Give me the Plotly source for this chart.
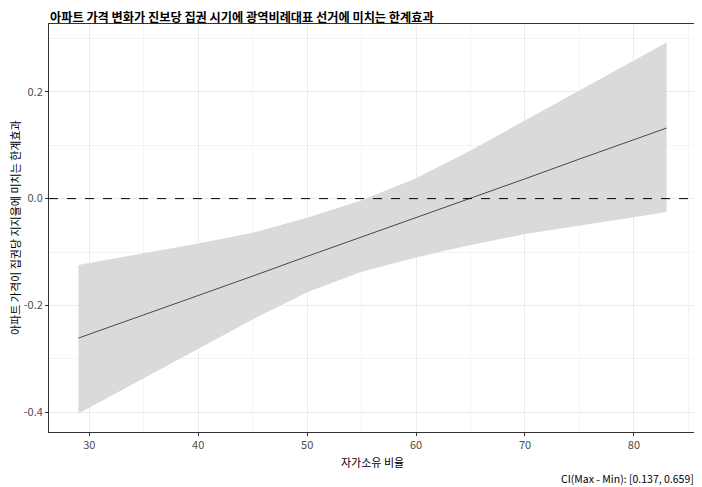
import plotly.graph_objects as go

# Data
ownership = [29, 35, 40, 45, 50, 55, 60, 65, 70, 75, 80, 83]
effect = [-0.261, -0.218, -0.181, -0.145, -0.108, -0.072, -0.036, 0.001, 0.037, 0.074, 0.110, 0.132]
upper = [-0.124, -0.102, -0.084, -0.064, -0.036, -0.003, 0.038, 0.090, 0.146, 0.202, 0.258, 0.292]
lower = [-0.402, -0.336, -0.281, -0.226, -0.175, -0.137, -0.110, -0.087, -0.066, -0.051, -0.035, -0.025]

x_ticks = [30, 40, 50, 60, 70, 80]
y_ticks = [-0.4, -0.2, 0.0, 0.2]
y_tick_labels = ["-0.4", "-0.2", "0.0", "0.2"]

title_text = "아파트 가격 변화가 진보당 집권 시기에 광역비례대표 선거에 미치는 한계효과"
x_title = "자가소유 비율"
y_title = "아파트 가격이 집권당 지지율에 미치는 한계효과"
caption = "CI(Max - Min): [0.137, 0.659]"

FONT = "Noto Sans CJK KR"
# the page body adds an 8px margin, so the figure is sized to fit inside it
W, H = 694, 479
ML, MR, MT, MB = 41, 6, 16, 55

fig = go.Figure()
fig.add_trace(go.Scatter(x=ownership, y=upper, mode="lines", line=dict(width=0),
                         hoverinfo="skip", showlegend=False))
fig.add_trace(go.Scatter(x=ownership, y=lower, mode="lines", line=dict(width=0),
                         fill="tonexty", fillcolor="rgba(218,218,218,1)",
                         hoverinfo="skip", showlegend=False))
fig.add_trace(go.Scatter(x=ownership, y=effect, mode="lines",
                         line=dict(color="#222222", width=0.8), showlegend=False))

fig.add_shape(type="line", xref="paper", x0=0, x1=1, yref="y", y0=0, y1=0,
              line=dict(color="black", width=1, dash="dash"))

xmin, xmax = min(ownership), max(ownership)
xr = xmax - xmin
ymin, ymax = min(lower), max(upper)
yr = ymax - ymin

grid = "#ebebeb"
fig.update_xaxes(range=[xmin - 0.05 * xr, xmax + 0.05 * xr],
                 tickvals=x_ticks, ticks="outside", ticklen=3, tickcolor="#333333",
                 tickfont=dict(family=FONT, size=11, color="#4d4d4d"),
                 showgrid=True, gridcolor=grid, gridwidth=1,
                 minor=dict(dtick=5, tick0=25, showgrid=True, gridcolor="#f4f4f4", gridwidth=0.6),
                 showline=True, linecolor="#333333", linewidth=1, mirror=True,
                 zeroline=False)
fig.update_yaxes(range=[ymin - 0.05 * yr, ymax + 0.05 * yr],
                 tickvals=y_ticks, ticktext=y_tick_labels, ticks="outside", ticklen=3,
                 tickcolor="#333333",
                 tickfont=dict(family=FONT, size=11, color="#4d4d4d"),
                 showgrid=True, gridcolor=grid, gridwidth=1,
                 minor=dict(dtick=0.1, tick0=-0.5, showgrid=True, gridcolor="#f4f4f4", gridwidth=0.6),
                 showline=True, linecolor="#333333", linewidth=1, mirror=True,
                 zeroline=False)

fig.update_layout(
    width=W, height=H,
    margin=dict(l=ML, r=MR, t=MT, b=MB),
    plot_bgcolor="white", paper_bgcolor="white",
    title=dict(text="<b>" + title_text + "</b>", xref="container", x=42 / W, xanchor="left",
               yref="container", y=1 - 9.5 / H, yanchor="middle",
               font=dict(family=FONT, size=12.2, color="black")),
    annotations=[
        dict(text=x_title, xref="paper", yref="paper", x=0.5, y=0, yshift=-30,
             xanchor="center", yanchor="middle", showarrow=False,
             font=dict(family=FONT, size=11, color="black")),
        dict(text=y_title, xref="paper", yref="paper", x=0, y=0.5, xshift=-34,
             xanchor="center", yanchor="middle", textangle=-90, showarrow=False,
             font=dict(family=FONT, size=11, color="black")),
        dict(text=caption, xref="paper", yref="paper", x=1, y=0, yshift=-46,
             xanchor="right", yanchor="middle", showarrow=False,
             font=dict(family=FONT, size=10.5, color="black")),
    ],
)

fig.write_html("out.html")
